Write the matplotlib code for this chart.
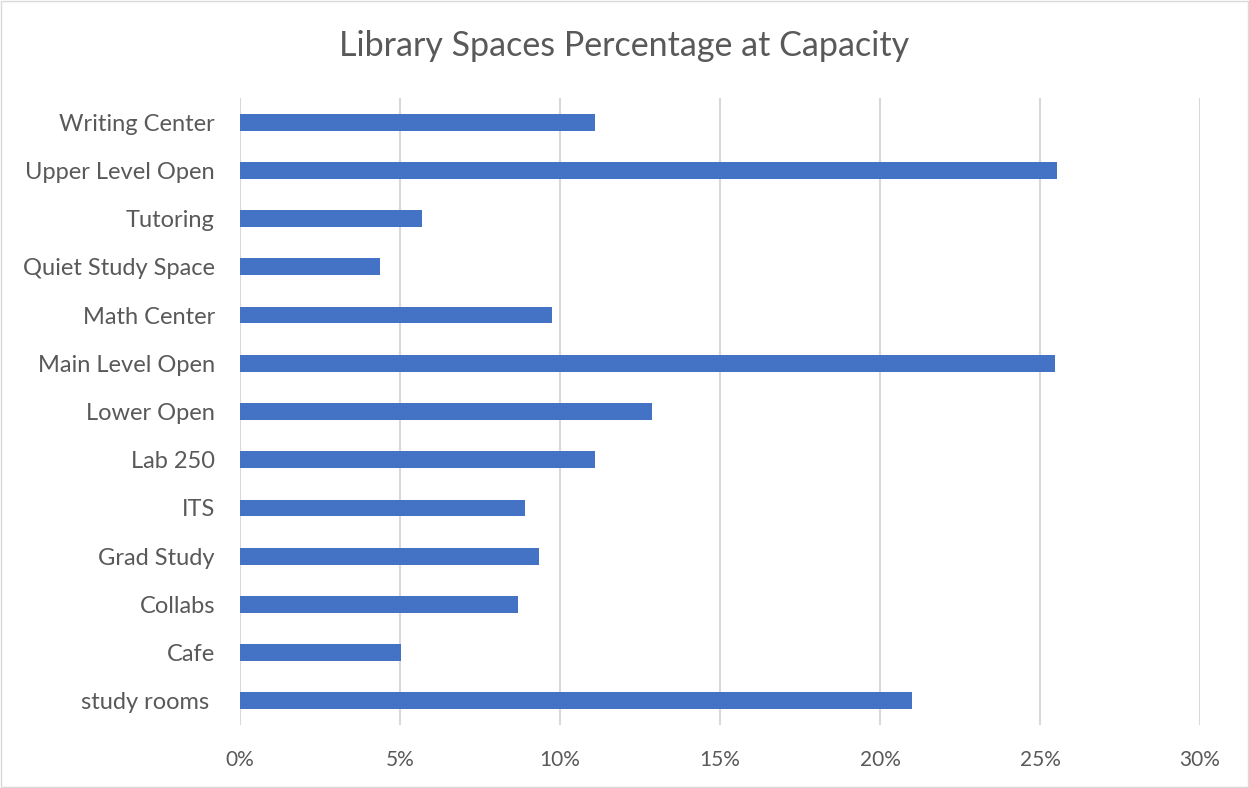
import matplotlib
matplotlib.use('Agg')
import matplotlib.pyplot as plt
from matplotlib.patches import Rectangle
from matplotlib.ticker import FuncFormatter

# data, bottom to top as drawn
spaces = ['study rooms ', 'Cafe', 'Collabs', 'Grad Study', 'ITS', 'Lab 250',
          'Lower Open', 'Main Level Open', 'Math Center', 'Quiet Study Space',
          'Tutoring', 'Upper Level Open', 'Writing Center']
pct_capacity = [21.0, 5.03, 8.69, 9.34, 8.9, 11.1, 12.88, 25.47, 9.75, 4.38,
                5.69, 25.52, 11.1]
x_ticks = [0, 5, 10, 15, 20, 25, 30]

plt.rcParams['font.family'] = ['Lato', 'DejaVu Sans']
text_col = '#595959'
grid_col = '#D9D9D9'

fig = plt.figure(figsize=(12.49, 7.88), dpi=100)
ax = fig.add_axes([240/1249, 1-725/788, 960/1249, 627/788])

ax.barh(range(len(spaces)), pct_capacity, height=0.35, color='#4472C4', zorder=3)

ax.set_xlim(0, 30)
ax.set_ylim(-0.5, len(spaces)-0.5)
ax.set_xticks(x_ticks)
ax.xaxis.set_major_formatter(FuncFormatter(lambda v, p: '%d%%' % v))
ax.set_yticks(range(len(spaces)))
ax.set_yticklabels(spaces)
ax.grid(axis='x', color=grid_col, lw=1.5, zorder=0)
for s in ['top', 'right', 'bottom', 'left']:
    ax.spines[s].set_visible(False)
ax.tick_params(axis='both', length=0, colors=text_col)
ax.tick_params(axis='x', pad=18, labelsize=15)
ax.tick_params(axis='y', pad=18, labelsize=17)

fig.text(0.5, 1-46/788, 'Library Spaces Percentage at Capacity', ha='center',
         va='center', fontsize=24.5, color=text_col)

# chart border
fig.patches.append(Rectangle((0.0008, 0.0013), 0.9984, 0.9974, transform=fig.transFigure,
                             fill=False, edgecolor=grid_col, lw=1))

fig.savefig('out.png', dpi=100)
